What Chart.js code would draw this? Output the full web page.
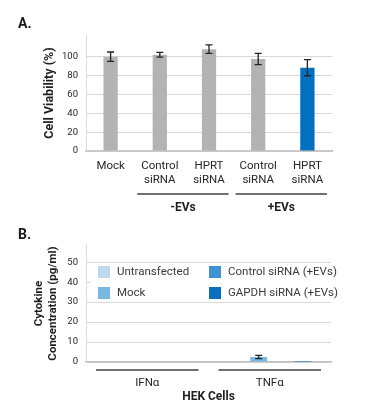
<!DOCTYPE html>
<html>
<head>
<meta charset="utf-8">
<script src="https://cdn.jsdelivr.net/npm/chart.js@4.4.0/dist/chart.umd.min.js"></script>
<style>
  html,body{margin:0;padding:0;background:#fff;}
  #wrap{width:376px;height:413px;}
  canvas{display:block;}
</style>
</head>
<body>
<div id="wrap">
  <canvas id="chA" width="376" height="215"></canvas>
  <canvas id="chB" width="376" height="198"></canvas>
</div>
<script>
// ---- panel A : cell viability ----
const aLabels=[['Mock'],['Control','siRNA'],['HPRT','siRNA'],['Control','siRNA'],['HPRT','siRNA']];
const aValues=[100,102,108,97.5,88.3];
const aErrors=[5,2.5,4.5,6,8.5];
const aColors=['#b3b3b3','#b3b3b3','#b3b3b3','#b3b3b3','#0070c0'];
const aGroups=[{label:'-EVs',from:1,to:2},{label:'+EVs',from:3,to:4}];
const aTicks=[0,20,40,60,80,100];

// ---- panel B : cytokines ----
const bLabels=['IFNα','TNFα'];
const bSeries=['Untransfected','Mock','Control siRNA (+EVs)','GAPDH siRNA (+EVs)'];
const bValues=[[0,0],[0,2.5],[0,0],[0,0.5]];
const bErrors=[[0,0],[0,0.8],[0,0],[0,0]];
const bColors=['#bdd7ee','#7ab8e4','#3d95d6','#0a6fbf'];
const bGroups=[{label:'',from:0,to:0},{label:'',from:1,to:1}];
const bTicks=[0,10,20,30,40,50];

Chart.defaults.font.family='Roboto, "Noto Sans", sans-serif';

// error bars from ds.errors
const errorBars={id:'errorBars',afterDatasetsDraw(chart){
  const ctx=chart.ctx,y=chart.scales.y;
  chart.data.datasets.forEach((ds,di)=>{
    const meta=chart.getDatasetMeta(di);
    meta.data.forEach((bar,i)=>{
      const e=ds.errors&&ds.errors[i]; if(!e) return;
      const v=ds.data[i],yt=y.getPixelForValue(v+e),yb=y.getPixelForValue(v-e);
      ctx.save(); ctx.strokeStyle='#222'; ctx.lineWidth=1.3;
      ctx.beginPath();
      ctx.moveTo(bar.x,yt); ctx.lineTo(bar.x,yb);
      ctx.moveTo(bar.x-3.5,yt); ctx.lineTo(bar.x+3.5,yt);
      ctx.moveTo(bar.x-3.5,yb); ctx.lineTo(bar.x+3.5,yb);
      ctx.stroke(); ctx.restore();
    });
  });
}};

// group brackets under the x labels + panel letter
const brackets={id:'brackets',afterDraw(chart,args,o){
  const ctx=chart.ctx,x=chart.scales.x,a=chart.chartArea;
  const cw=(a.right-a.left)/chart.data.labels.length;
  ctx.save();
  o.groups.forEach(g=>{
    const l=x.getPixelForValue(g.from)-cw/2+o.insetL;
    const r=x.getPixelForValue(g.to)+cw/2-o.insetR;
    ctx.strokeStyle='#404040'; ctx.lineWidth=1.5;
    ctx.beginPath(); ctx.moveTo(l,o.y); ctx.lineTo(r,o.y); ctx.stroke();
    if(g.label){
      ctx.font='bold 12px Roboto'; ctx.fillStyle='#1f1f1f';
      ctx.textAlign='center'; ctx.textBaseline='middle';
      ctx.fillText(g.label,(l+r)/2,o.labelY);
    }
  });
  ctx.font='bold 14px Roboto'; ctx.fillStyle='#1a1a1a';
  ctx.textAlign='left'; ctx.textBaseline='middle';
  ctx.fillText(o.panel,18,o.panelY);
  ctx.restore();
}};

// 2x2 legend inside the plot, filled column by column
const gridLegend={id:'gridLegend',beforeDatasetsDraw(chart){
  const ctx=chart.ctx,a=chart.chartArea;
  ctx.save();
  ctx.fillStyle='#fff'; ctx.fillRect(a.left+4,50,a.right-a.left-4,34);
  ctx.font='11.5px Roboto'; ctx.textBaseline='middle'; ctx.textAlign='left';
  chart.data.datasets.forEach((ds,i)=>{
    const col=Math.floor(i/2),row=i%2;
    const bx=a.left+12+col*111,cy=57+row*21;
    ctx.fillStyle=ds.backgroundColor; ctx.fillRect(bx,cy-6,12,12);
    ctx.fillStyle='#3a3a3a'; ctx.fillText(ds.label,bx+19,cy);
  });
  ctx.restore();
}};

new Chart(document.getElementById('chA'),{
  type:'bar',
  data:{labels:aLabels,datasets:[{data:aValues,errors:aErrors,backgroundColor:aColors,
    barPercentage:0.29,categoryPercentage:1}]},
  options:{responsive:false,animation:false,
    layout:{padding:{top:35,right:44,left:0,bottom:0}},
    plugins:{legend:{display:false},tooltip:{enabled:false},
      brackets:{groups:aGroups,insetL:2,insetR:5,y:194,labelY:208,panel:'A.',panelY:24}},
    scales:{
      x:{grid:{display:false,drawTicks:false},border:{color:'#c8c8c8',width:2},
         ticks:{font:{size:11.5},color:'#262626',padding:8,maxRotation:0,autoSkip:false},
         afterFit(s){s.height=64;}},
      y:{min:0,max:123,afterBuildTicks(s){s.ticks=aTicks.map(v=>({value:v}));},
         grid:{color:'#d9d9d9',drawTicks:false},border:{color:'#d9d9d9'},
         ticks:{font:{size:9.5},color:'#262626',padding:8},
         title:{display:true,text:'Cell Viability (%)',font:{size:12.5,weight:'bold'},color:'#1f1f1f',padding:{top:42,bottom:0}},
         afterFit(s){s.width=86;}}
    }},
  plugins:[errorBars,brackets]
});

new Chart(document.getElementById('chB'),{
  type:'bar',
  data:{labels:bLabels,datasets:bSeries.map((s,i)=>({label:s,data:bValues[i],errors:bErrors[i],
    backgroundColor:bColors[i],barPercentage:0.77,categoryPercentage:0.72}))},
  options:{responsive:false,animation:false,
    layout:{padding:{top:30,right:45,left:0,bottom:0}},
    plugins:{legend:{display:false},tooltip:{enabled:false},
      brackets:{groups:bGroups,insetL:10,insetR:10,y:155,labelY:0,panel:'B.',panelY:20}},
    scales:{
      x:{grid:{display:false,drawTicks:false},border:{color:'#bfbfbf',width:1.5},
         ticks:{font:{size:11.5},color:'#262626',padding:14,maxRotation:0},
         title:{display:true,text:'HEK Cells',font:{size:12,weight:'bold'},color:'#1f1f1f',padding:{top:0,bottom:9}},
         afterFit(s){s.height=51;}},
      y:{min:0,max:58.6,afterBuildTicks(s){s.ticks=bTicks.map(v=>({value:v}));},
         grid:{color:'#d9d9d9',drawTicks:false},border:{color:'#d9d9d9'},
         ticks:{font:{size:9.5},color:'#262626',padding:8},
         title:{display:true,text:['Cytokine','Concentration (pg/ml)'],font:{size:11.5,weight:'bold',lineHeight:1.22},color:'#1f1f1f',padding:{top:32,bottom:0}},
         afterFit(s){s.width=86;}}
    }},
  plugins:[gridLegend,errorBars,brackets]
});
</script>
</body>
</html>
